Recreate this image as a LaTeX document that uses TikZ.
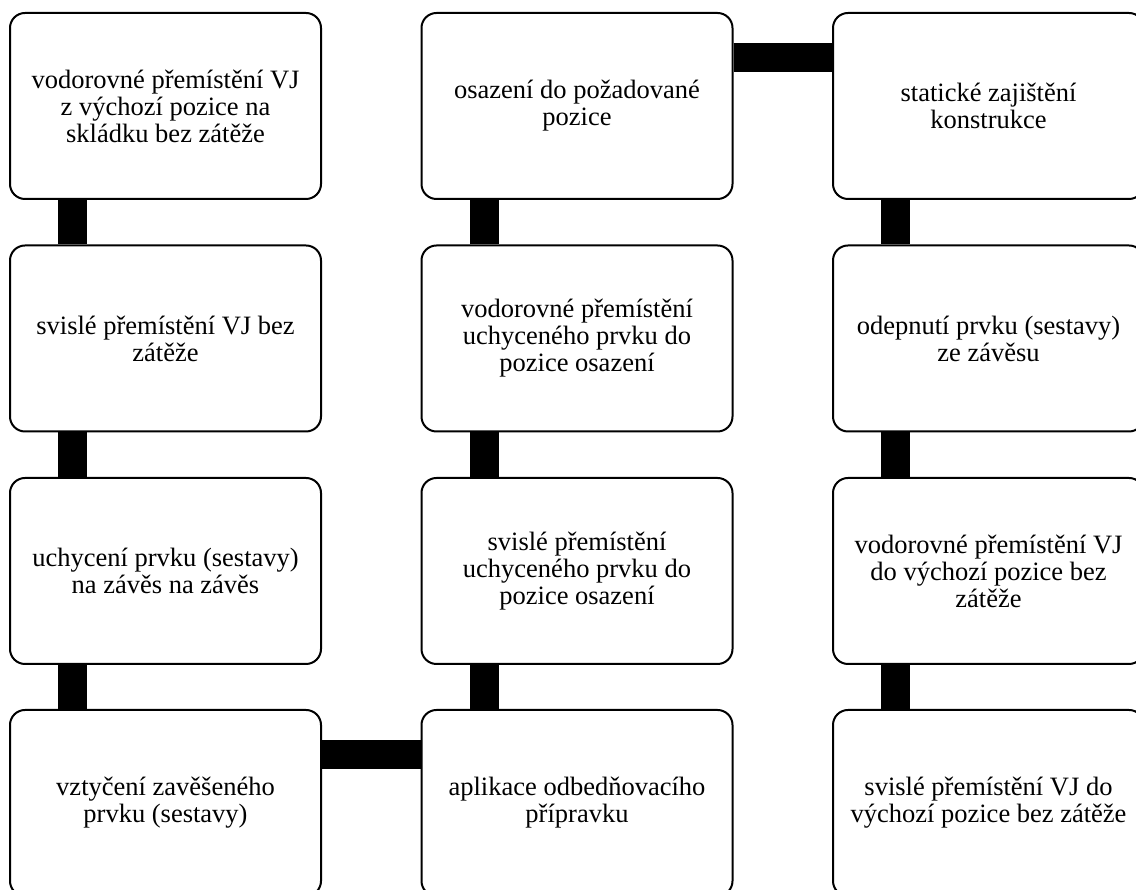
\documentclass[tikz,border=0pt]{standalone}
\usepackage{fontspec}
\setmainfont{Liberation Serif}
\begin{document}
\begin{tikzpicture}[
    x=1pt, y=1pt,
    stepbox/.style={rectangle, draw, line width=2pt, rounded corners=15pt, minimum width=311pt, minimum height=186pt, inner sep=0pt, align=center, font=\fontsize{26.5}{27}\selectfont},
    bar/.style={line width=29pt, black}
]

% Frame
\path[use as bounding box, clip] (0,0) rectangle (1136,890);

% Column 1
\node[stepbox] (lift) at (165.5,784) {vodorovné přemístění VJ\\z výchozí pozice na\\skládku bez zátěže};
\node[stepbox] (lower) at (165.5,551.5) {svislé přemístění VJ bez\\zátěže};
\node[stepbox] (hook) at (165.5,319) {uchycení prvku (sestavy)\\na závěs na závěs};
\node[stepbox] (raise) at (165.5,87) {vztyčení zavěšeného\\prvku (sestavy)};

% Column 2
\node[stepbox] (place) at (577,784) {osazení do požadované\\pozice};
\node[stepbox] (shift) at (577,551.5) {vodorovné přemístění\\uchyceného prvku do\\pozice osazení};
\node[stepbox] (drop) at (577,319) {svislé přemístění\\uchyceného prvku do\\pozice osazení};
\node[stepbox] (form) at (577,87) {aplikace odbedňovacího\\přípravku};

% Column 3
\node[stepbox] (secure) at (988.5,784) {statické zajištění\\konstrukce};
\node[stepbox] (unhook) at (988.5,551.5) {odepnutí prvku (sestavy)\\ze závěsu};
\node[stepbox] (back) at (988.5,319) {vodorovné přemístění VJ\\do výchozí pozice bez\\zátěže};
\node[stepbox] (home) at (988.5,87) {svislé přemístění VJ do\\výchozí pozice bez zátěže};

% Connections
\draw[bar] ([xshift=63.5pt]lift.south west) -- ([xshift=63.5pt]lower.north west);
\draw[bar] ([xshift=63.5pt]lower.south west) -- ([xshift=63.5pt]hook.north west);
\draw[bar] ([xshift=63.5pt]hook.south west) -- ([xshift=63.5pt]raise.north west);
\draw[bar] ([yshift=-45.5pt]raise.north east) -- ([yshift=-45.5pt]form.north west);

\draw[bar] ([xshift=63.5pt]form.north west) -- ([xshift=63.5pt]drop.south west);
\draw[bar] ([xshift=63.5pt]drop.north west) -- ([xshift=63.5pt]shift.south west);
\draw[bar] ([xshift=63.5pt]shift.north west) -- ([xshift=63.5pt]place.south west);
\draw[bar] ([yshift=-46pt]place.north east) -- ([yshift=-46pt]secure.north west);

\draw[bar] ([xshift=63.5pt]secure.south west) -- ([xshift=63.5pt]unhook.north west);
\draw[bar] ([xshift=63.5pt]unhook.south west) -- ([xshift=63.5pt]back.north west);
\draw[bar] ([xshift=63.5pt]back.south west) -- ([xshift=63.5pt]home.north west);

\end{tikzpicture}
\end{document}
